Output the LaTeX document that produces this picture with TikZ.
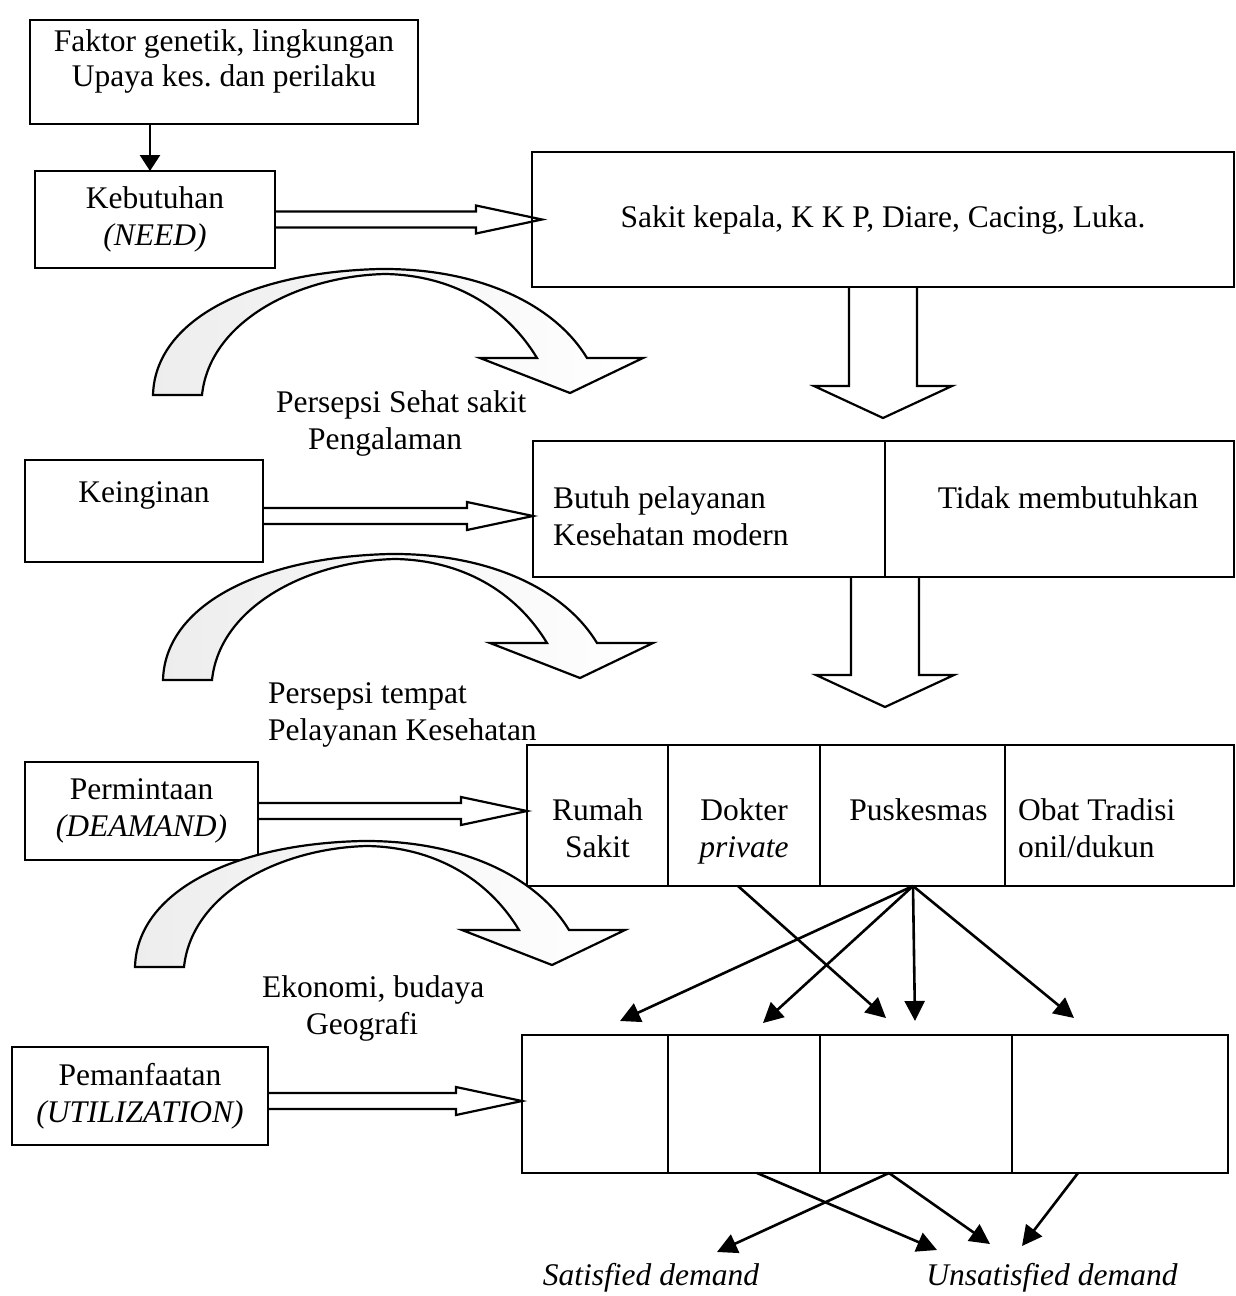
\documentclass[tikz,border=0pt]{standalone}
\usepackage{fontspec}
\setmainfont{Liberation Serif}
\usetikzlibrary{calc,arrows.meta}
\frenchspacing

% hollow horizontal arrow from #1 to the tip #2 (same height)
\newcommand\fatH[2]{%
  \draw[fat] let \p1=(#1), \p2=(#2) in
    (\x1,\y1+8pt) -- (\x2-66pt,\y1+8pt) -- (\x2-66pt,\y1+14pt) -- (\x2,\y1)
    -- (\x2-66pt,\y1-14pt) -- (\x2-66pt,\y1-8pt) -- (\x1,\y1-8pt);}
% hollow downward arrow from #1 to the tip #2
\newcommand\fatV[2]{%
  \draw[fat] let \p1=(#1), \p2=(#2) in
    (\x1-34pt,\y1) -- (\x1-34pt,\y2+32pt) -- (\x1-69pt,\y2+32pt) -- (\x1,\y2)
    -- (\x1+69pt,\y2+32pt) -- (\x1+34pt,\y2+32pt) -- (\x1+34pt,\y1);}

\begin{document}
\begin{tikzpicture}[x=1pt,y=-1pt,
  every node/.append style={font=\fontsize{31.5}{37}\selectfont},
  box/.style={draw, line width=2pt, inner sep=0pt, outer sep=0pt, align=center},
  txt/.style={inner sep=0pt, align=center},
  fat/.style={draw, line width=2.2pt, line join=miter},
  thin/.style={line width=2.6pt, -{Triangle[length=20pt,width=20pt]}},
  pics/bend/.style={code={
    \path[draw, line width=2.2pt, left color=black!7, right color=white, line join=miter]
      (153,395) .. controls (155,320) and (250,272) .. (380,269)
      .. controls (480,268) and (555,305) .. (587,358)
      -- (643,358) -- (570,393) -- (480,358) -- (537,358)
      .. controls (505,305) and (450,275) .. (385,274)
      .. controls (300,276) and (210,320) .. (202,395) -- cycle;
  }}
]
\path[fill=white] (0,0) rectangle (1236,1296);
\useasboundingbox (0,0) rectangle (1236,1296);

% ---- left column ----
\node[box, minimum width=388, minimum height=104] (faktor) at (224,72) {};
\node[txt, font=\fontsize{31.5}{35}\selectfont] at (224,61)
  {Faktor genetik, lingkungan\\Upaya kes. dan perilaku};
\node[box, minimum width=240, minimum height=97] (kebut) at (155,219.5)
  {Kebutuhan\\\textit{(NEED)}};
\node[box, minimum width=238, minimum height=102] (keing) at (144,511) {};
\node[txt] at ($(keing)+(0,-16)$) {Keinginan};
\node[box, minimum width=233, minimum height=98] (perm) at (141.5,811)
  {Permintaan\\\textit{(DEAMAND)}};
\node[box, minimum width=256, minimum height=98] (peman) at (140,1096)
  {Pemanfaatan\\\textit{(UTILIZATION)}};

% ---- right column ----
\node[box, minimum width=702, minimum height=135] (sakit) at (883,219.5)
  {Sakit kepala, K K P, Diare, Cacing, Luka.};

\node[box, minimum width=352, minimum height=136] (butuh) at (709,509) {};
\node[box, minimum width=349, minimum height=136] (tidak) at (1059.5,509) {};
\node[txt, align=left, anchor=north west] at (553,486)
  {Butuh pelayanan\\Kesehatan modern};
\node[txt, anchor=north] at (1068,486) {Tidak membutuhkan};

\node[box, minimum width=141, minimum height=141] (c1) at (597.5,815.5) {};
\node[box, minimum width=152, minimum height=141] (c2) at (744,815.5) {};
\node[box, minimum width=185, minimum height=141] (c3) at (912.5,815.5) {};
\node[box, minimum width=229, minimum height=141] (c4) at (1119.5,815.5) {};
\node[txt, anchor=north] at ($(c1.north)+(0,53)$) {Rumah\\Sakit};
\node[txt, anchor=north] at ($(c2.north)+(0,53)$) {Dokter\\\textit{private}};
\node[txt, anchor=north] at ($(c3.north)+(6,53)$) {Puskesmas};
\node[txt, align=left, anchor=north west] at ($(c4.north west)+(13,53)$)
  {Obat Tradisi\\onil/dukun};

\node[box, minimum width=146, minimum height=138] (d1) at (595,1104) {};
\node[box, minimum width=152, minimum height=138] (d2) at (744,1104) {};
\node[box, minimum width=192, minimum height=138] (d3) at (916,1104) {};
\node[box, minimum width=216, minimum height=138] (d4) at (1120,1104) {};

% ---- side labels ----
\node[txt, align=left, anchor=north west] at (276,390)
  {Persepsi Sehat sakit\\\hspace*{32pt}Pengalaman};
\node[txt, align=left, anchor=north west] at (268,682)
  {Persepsi tempat\\Pelayanan Kesehatan};
\node[txt, align=left, anchor=north west] at (262,975)
  {Ekonomi, budaya\\\hspace*{44pt}Geografi};
\node[txt, font=\fontsize{31.5}{37}\selectfont\itshape] (sat) at (651,1278) {Satisfied demand};
\node[txt, font=\fontsize{31.5}{37}\selectfont\itshape] (unsat) at (1052,1278) {Unsatisfied demand};

% ---- curved hollow arrows ----
\pic at (0,0) {bend};
\pic at (10,285) {bend};
\pic at (-18,572) {bend};

% ---- hollow straight arrows ----
\fatH{kebut.east}{$(kebut.east -| sakit.west)+(10,0)$}
\fatH{$(keing.east)+(0,5)$}{$(keing.east -| butuh.west)+(0,5)$}
\fatH{perm.east}{perm.east -| c1.west}
\fatH{$(peman.east)+(0,5)$}{$(peman.east -| d1.west)+(0,5)$}

\coordinate (t1) at (884,418);
\coordinate (t2) at (885,707);
\fatV{sakit.south}{t1}
\fatV{butuh.south east}{t2}

% ---- thin arrows ----
\draw[thin, -{Triangle[length=16pt,width=20pt]}] (faktor.south -| 150,0) -- (kebut.north -| 150,0);

\coordinate (p) at (913,886);
\coordinate (q) at (738,886);
\coordinate (e1) at (620,1021);
\coordinate (e2) at (763,1023);
\coordinate (e3) at (886,1018);
\coordinate (e4) at (915,1021);
\coordinate (e5) at (1074,1018);
\draw[thin] (p) -- (e1);
\draw[thin] (p) -- (e2);
\draw[thin] (p) -- (e4);
\draw[thin] (p) -- (e5);
\draw[thin] (q) -- (e3);

\coordinate (r1) at (757,1173);
\coordinate (r2) at (889,1173);
\coordinate (r3) at (1078,1173);
\coordinate (s1) at (717,1252);
\coordinate (s2) at (937,1250);
\coordinate (s3) at (990,1244);
\coordinate (s4) at (1022,1246);
\draw[thin] (r1) -- (s2);
\draw[thin] (r2) -- (s1);
\draw[thin] (r2) -- (s3);
\draw[thin] (r3) -- (s4);
\end{tikzpicture}
\end{document}
